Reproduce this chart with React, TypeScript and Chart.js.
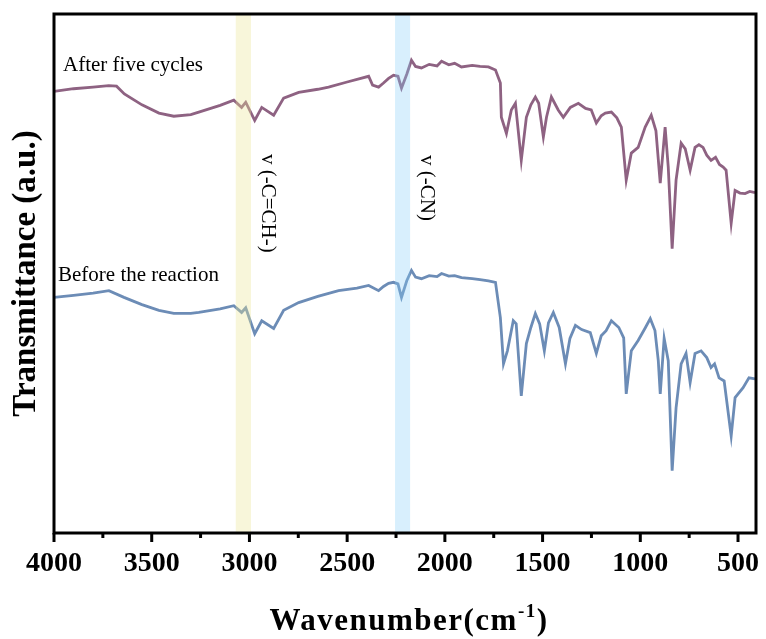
import React, { useEffect, useRef } from "react";
import { Chart, registerables } from "chart.js";

Chart.register(...registerables);

// ---------- data ----------
const afterWavenumbers = [4000, 3900, 3800, 3720, 3680, 3640, 3550, 3463, 3387, 3300, 3259, 3150, 3080, 3040, 3019, 2973, 2937, 2876, 2825, 2748, 2650, 2595, 2500, 2390, 2370, 2339, 2314, 2288, 2263, 2240, 2222, 2195, 2171, 2150, 2120, 2080, 2040, 2017, 1980, 1950, 1915, 1860, 1820, 1777, 1741, 1716, 1711, 1685, 1660, 1639, 1609, 1583, 1560, 1537, 1520, 1496, 1480, 1455, 1420, 1394, 1358, 1317, 1280, 1251, 1225, 1200, 1179, 1148, 1120, 1097, 1072, 1046, 1011, 975, 944, 920, 898, 873, 857, 837, 817, 791, 770, 745, 720, 700, 679, 660, 638, 615, 595, 576, 561, 535, 515, 490, 464, 440, 413];
const afterCycles = [85.1, 85.6, 85.9, 86.2, 86.1, 84.6, 82.5, 80.9, 80.3, 80.6, 81.1, 82.4, 83.4, 82.0, 83.0, 79.5, 82.0, 80.5, 83.8, 84.9, 85.5, 85.9, 86.9, 88.0, 86.3, 85.9, 86.7, 87.6, 88.2, 88.0, 85.7, 88.4, 91.1, 89.9, 89.6, 90.3, 90.0, 90.9, 90.2, 90.5, 89.8, 90.1, 89.9, 89.8, 89.2, 86.7, 80.1, 77.0, 81.5, 82.8, 71.8, 80.1, 82.5, 84.0, 82.8, 76.3, 80.1, 84.0, 81.5, 80.1, 82.0, 82.8, 81.8, 81.5, 79.0, 80.4, 80.9, 81.1, 80.0, 78.2, 68.0, 73.2, 74.3, 78.2, 80.5, 77.5, 67.4, 78.2, 70.5, 54.8, 68.0, 75.1, 74.0, 69.9, 74.3, 74.8, 74.3, 72.8, 71.8, 72.4, 71.0, 70.5, 69.9, 59.7, 66.0, 65.5, 65.4, 65.8, 65.6];

const beforeWavenumbers = [4000, 3900, 3800, 3719, 3642, 3550, 3463, 3387, 3300, 3259, 3150, 3080, 3040, 3019, 2973, 2937, 2876, 2825, 2748, 2650, 2544, 2450, 2390, 2339, 2314, 2288, 2263, 2240, 2222, 2195, 2171, 2150, 2120, 2080, 2040, 2017, 1980, 1950, 1915, 1860, 1820, 1777, 1741, 1716, 1700, 1680, 1650, 1635, 1609, 1583, 1560, 1537, 1515, 1491, 1470, 1445, 1415, 1383, 1360, 1332, 1300, 1256, 1225, 1200, 1175, 1148, 1110, 1085, 1072, 1046, 1011, 975, 949, 925, 908, 898, 878, 857, 837, 817, 791, 766, 745, 720, 689, 660, 638, 620, 597, 571, 535, 515, 474, 444, 413];
const beforeReaction = [45.4, 45.8, 46.2, 46.7, 45.4, 44.0, 42.9, 42.3, 42.3, 42.5, 43.2, 43.8, 42.5, 43.4, 38.4, 40.9, 39.4, 42.9, 44.4, 45.6, 46.7, 47.2, 47.7, 46.7, 47.5, 48.1, 48.3, 48.0, 45.4, 48.6, 50.6, 49.3, 49.0, 49.6, 49.4, 50.0, 49.5, 49.6, 49.2, 49.0, 48.8, 48.6, 48.3, 41.5, 32.6, 35.1, 40.9, 40.3, 26.4, 36.5, 39.6, 42.3, 40.3, 35.1, 40.5, 42.5, 39.6, 32.6, 37.5, 40.0, 39.2, 38.6, 34.6, 38.0, 39.0, 40.9, 39.6, 37.6, 26.8, 35.1, 37.1, 39.5, 41.3, 39.0, 33.2, 26.8, 37.5, 33.2, 12.0, 24.1, 32.6, 34.6, 29.0, 34.6, 35.1, 33.8, 31.9, 32.6, 29.9, 29.3, 18.7, 26.1, 28.0, 29.9, 29.7];

const xTickValues = [4000, 3500, 3000, 2500, 2000, 1500, 1000, 500];
const xMinorTickValues = [3750, 3250, 2750, 2250, 1750, 1250, 750];
const bandCH = [3070, 2992];
const bandCN = [2255, 2178];
const seriesLabels = ["After five cycles", "Before the reaction"];
const bandLabels = ["v (-C=CH-)", "v (-CN)"];

const SERIF = '"Liberation Serif", "Times New Roman", serif';

const decorPlugin = {
  id: "decor",
  afterDatasetsDraw(chart: any) {
    const { ctx, chartArea: a, scales } = chart;
    const x = scales.x;
    ctx.save();
    // highlight bands (translucent, over the lines)
    const bands: [number[], string][] = [
      [bandCH, "rgba(236,228,150,0.35)"],
      [bandCN, "rgba(135,206,250,0.32)"],
    ];
    bands.forEach(([b, c]) => {
      const x1 = x.getPixelForValue(b[0]);
      const x2 = x.getPixelForValue(b[1]);
      ctx.fillStyle = c;
      ctx.fillRect(Math.min(x1, x2), a.top, Math.abs(x2 - x1), a.bottom - a.top);
    });
    // frame
    ctx.strokeStyle = "#000";
    ctx.lineWidth = 3;
    ctx.strokeRect(a.left, a.top, a.right - a.left, a.bottom - a.top);
    // ticks
    ctx.lineWidth = 3;
    xTickValues.forEach((v) => {
      const px = x.getPixelForValue(v);
      ctx.beginPath();
      ctx.moveTo(px, a.bottom);
      ctx.lineTo(px, a.bottom + 9);
      ctx.stroke();
    });
    xMinorTickValues.forEach((v) => {
      const px = x.getPixelForValue(v);
      ctx.beginPath();
      ctx.moveTo(px, a.bottom);
      ctx.lineTo(px, a.bottom + 5);
      ctx.stroke();
    });
    // series labels
    ctx.fillStyle = "#000";
    ctx.font = `21px ${SERIF}`;
    ctx.textAlign = "left";
    ctx.textBaseline = "alphabetic";
    ctx.fillText(seriesLabels[0], 63, 71);
    ctx.fillText(seriesLabels[1], 58, 281);
    // rotated band labels
    const rot = (text: string, cx: number, top: number) => {
      ctx.save();
      ctx.translate(cx, top);
      ctx.rotate(Math.PI / 2);
      ctx.textBaseline = "middle";
      ctx.textAlign = "left";
      ctx.font = `21px ${SERIF}`;
      ctx.fillText(text, 0, 0);
      ctx.restore();
    };
    rot(bandLabels[0], 268, 154);
    rot(bandLabels[1], 427, 155);
    // x title with superscript
    const main = "Wavenumber(cm";
    const sup = "-1";
    const close = ")";
    ctx.textBaseline = "alphabetic";
    const bigFont = `bold 31px ${SERIF}`;
    const supFont = `bold 19px ${SERIF}`;
    (ctx as any).letterSpacing = "1.5px";
    ctx.font = bigFont;
    const w1 = ctx.measureText(main).width;
    const w3 = ctx.measureText(close).width;
    ctx.font = supFont;
    const w2 = ctx.measureText(sup).width;
    const total = w1 + w2 + w3;
    let sx = 409 - total / 2;
    const base = 630;
    ctx.font = bigFont;
    ctx.fillText(main, sx, base);
    sx += w1;
    ctx.font = supFont;
    ctx.fillText(sup, sx, base - 13);
    sx += w2;
    ctx.font = bigFont;
    ctx.fillText(close, sx, base);
    (ctx as any).letterSpacing = "0px";
    ctx.restore();
  },
};

export default function App() {
  const ref = useRef<HTMLCanvasElement>(null);
  useEffect(() => {
    if (!ref.current) return;
    const chart = new Chart(ref.current, {
      type: "line",
      data: {
        datasets: [
          {
            label: seriesLabels[0],
            data: afterWavenumbers.map((w, i) => ({ x: w, y: afterCycles[i] })),
            borderColor: "rgb(142,98,130)",
            borderWidth: 2.8,
            pointRadius: 0,
            tension: 0,
          },
          {
            label: seriesLabels[1],
            data: beforeWavenumbers.map((w, i) => ({ x: w, y: beforeReaction[i] })),
            borderColor: "rgb(108,140,182)",
            borderWidth: 2.8,
            pointRadius: 0,
            tension: 0,
          },
        ],
      },
      options: {
        animation: false,
        responsive: true,
        maintainAspectRatio: false,
        layout: { padding: { top: 14, right: 10, left: 0, bottom: 0 } },
        plugins: { legend: { display: false }, tooltip: { enabled: false } },
        scales: {
          x: {
            type: "linear",
            reverse: true,
            min: 408,
            max: 4000,
            grid: { display: false, drawTicks: false },
            border: { display: false },
            afterBuildTicks: (s: any) => {
              s.ticks = xTickValues.map((v) => ({ value: v }));
            },
            afterFit: (s: any) => {
              s.height = 106;
              s.paddingLeft = 0;
              s.paddingRight = 0;
            },
            ticks: {
              padding: 14,
              maxRotation: 0,
              autoSkip: false,
              color: "#000",
              font: { family: SERIF, size: 28, weight: "bold" },
              callback: (v: any) => String(v),
            },
          },
          y: {
            min: 0,
            max: 100,
            grid: { display: false, drawTicks: false },
            border: { display: false },
            ticks: { display: false },
            afterFit: (s: any) => {
              s.width = 54;
              s.paddingTop = 0;
              s.paddingBottom = 0;
            },
            title: {
              display: true,
              text: "Transmittance (a.u.)",
              color: "#000",
              font: { family: SERIF, size: 33, weight: "bold" },
              padding: { top: 7, bottom: 0 },
            },
          },
        },
      },
      plugins: [decorPlugin],
    });
    return () => chart.destroy();
  }, []);
  return (
    <div style={{ position: "fixed", left: 0, top: 0, width: 766, height: 639, background: "#fff" }}>
      <canvas ref={ref} />
    </div>
  );
}
